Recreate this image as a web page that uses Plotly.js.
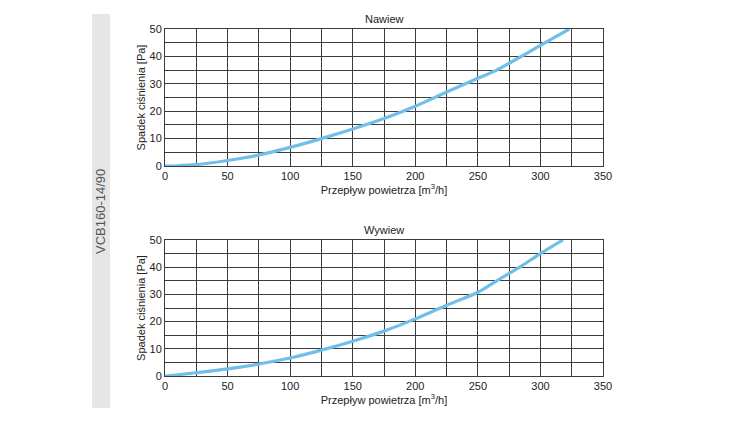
<!DOCTYPE html>
<html><head><meta charset="utf-8">
<script src="https://cdn.plot.ly/plotly-3.0.1.min.js"></script>
<style>html,body{margin:0;padding:0;background:#fff}</style>
</head><body>
<div id="chart" style="width:750px;height:426px"></div>
<script>
const nawiewFlow = [0, 10, 25, 50, 75, 100, 125, 150, 175, 200, 225, 250, 265, 275, 300, 323];
const nawiewDrop = [0, 0.1, 0.5, 2, 4, 6.8, 10, 13.5, 17.3, 21.8, 27, 32, 35, 37.5, 44, 50];
const wywiewFlow = [0, 25, 50, 75, 100, 125, 150, 175, 200, 225, 250, 265, 285, 300, 318];
const wywiewDrop = [0, 1.2, 2.6, 4.4, 6.6, 9.5, 12.8, 16.5, 21, 26, 30.8, 35, 40.5, 45, 50];
const titles = ['Nawiew', 'Wywiew'];
const sideLabel = 'VCB160-14/90';
const xTitle = 'Przepływ powietrza [m<sup>3</sup>/h]';
const yTitle = 'Spadek ciśnienia [Pa]';

const lineColor = '#6fbfe9';
const gridColor = '#3c3c3c';
const font = {family: 'Liberation Sans, Arial, sans-serif', size: 11, color: '#222'};

function axisX(anchor){
  return {anchor: anchor, range:[0,350], dtick:50, tick0:0, showgrid:true, gridcolor:gridColor, gridwidth:1,
    minor:{dtick:25, showgrid:true, gridcolor:gridColor, gridwidth:1, ticks:''},
    showline:true, mirror:true, linecolor:gridColor, linewidth:1, zeroline:false, ticks:'',
    tickfont:font, title:{text:xTitle, font:font, standoff:2}, fixedrange:true};
}
function axisY(anchor){
  return {anchor: anchor, range:[0,50], dtick:10, tick0:0, showgrid:true, gridcolor:gridColor, gridwidth:1,
    minor:{dtick:5, showgrid:true, gridcolor:gridColor, gridwidth:1, ticks:''},
    showline:true, mirror:true, linecolor:gridColor, linewidth:1, zeroline:false, ticks:'',
    tickfont:font, title:{text:yTitle, font:font, standoff:1}, fixedrange:true};
}

const traces = [
  {x:nawiewFlow, y:nawiewDrop, xaxis:'x', yaxis:'y', mode:'lines', line:{color:lineColor, width:3.2, shape:'spline', smoothing:0.8}, hoverinfo:'skip'},
  {x:wywiewFlow, y:wywiewDrop, xaxis:'x2', yaxis:'y2', mode:'lines', line:{color:lineColor, width:3.2, shape:'spline', smoothing:0.8}, hoverinfo:'skip'}
];

const xd = [165/750, 603/750];
const layout = {
  width:750, height:426, margin:{l:0,r:0,t:0,b:0}, showlegend:false,
  paper_bgcolor:'#fff', plot_bgcolor:'#fff', font:font,
  xaxis: Object.assign(axisX('y'), {domain:xd}),
  yaxis: Object.assign(axisY('x'), {domain:[1-166/426, 1-29/426]}),
  xaxis2: Object.assign(axisX('y2'), {domain:xd}),
  yaxis2: Object.assign(axisY('x2'), {domain:[1-376/426, 1-240/426]}),
  shapes:[{type:'rect', xref:'paper', yref:'paper', x0:92/750, x1:110/750, y0:1-408/426, y1:1-14/426, fillcolor:'#e6e6e6', line:{width:0}, layer:'below'}],
  annotations:[
    {text:titles[0], xref:'paper', yref:'paper', x:384/750, y:1-19/426, showarrow:false, font:font, xanchor:'center', yanchor:'middle'},
    {text:titles[1], xref:'paper', yref:'paper', x:384/750, y:1-230/426, showarrow:false, font:font, xanchor:'center', yanchor:'middle'},
    {text:sideLabel, xref:'paper', yref:'paper', x:101/750, y:1-211/426, showarrow:false, textangle:-90, font:{family:'Liberation Sans, Arial, sans-serif', size:13, color:'#555'}, xanchor:'center', yanchor:'middle'}
  ]
};
Plotly.newPlot('chart', traces, layout, {staticPlot:true, displayModeBar:false});
</script>
</body></html>
